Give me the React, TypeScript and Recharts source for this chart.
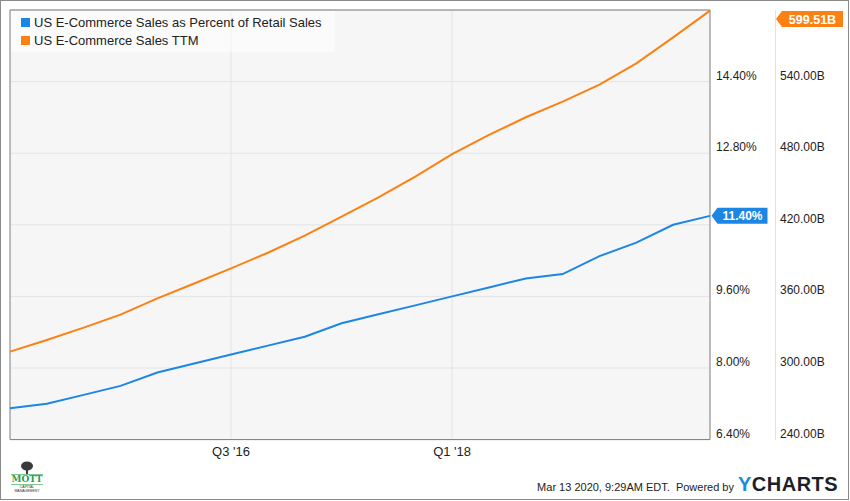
import React from 'react';
import { LineChart, Line, XAxis, YAxis, CartesianGrid, Legend, ReferenceArea } from 'recharts';

const quarters = ["Q1 '15", "Q2 '15", "Q3 '15", "Q4 '15", "Q1 '16", "Q2 '16", "Q3 '16", "Q4 '16", "Q1 '17", "Q2 '17", "Q3 '17", "Q4 '17", "Q1 '18", "Q2 '18", "Q3 '18", "Q4 '18", "Q1 '19", "Q2 '19", "Q3 '19", "Q4 '19"];
const ecomPctOfRetail = [7.1, 7.2, 7.4, 7.6, 7.9, 8.1, 8.3, 8.5, 8.7, 9.0, 9.2, 9.4, 9.6, 9.8, 10.0, 10.1, 10.5, 10.8, 11.2, 11.4];
const ecomSalesTTM = [313.7, 323.5, 333.8, 344.7, 358.3, 370.8, 383.5, 396.6, 410.9, 426.8, 442.9, 460.3, 479.3, 495.3, 510.1, 523.2, 537.4, 555.3, 577.1, 599.51];
const xTicks = [6, 12];
const pctTicks = [6.4, 8.0, 9.6, 11.2, 12.8, 14.4, 16.0];
const usdTicks = [240, 300, 360, 420, 480, 540, 600];
const seriesNames = ['US E-Commerce Sales as Percent of Retail Sales', 'US E-Commerce Sales TTM'];

const BLUE = '#1c86e4';
const ORANGE = '#fc8112';
const FONT = '"Liberation Sans", Arial, sans-serif';

const rows = quarters.map((q, i) => ({ i, q, pct: ecomPctOfRetail[i], usd: ecomSalesTTM[i] }));
const lastIdx = rows.length - 1;

const PctTick = (props: any) => {
  const { x, y, payload } = props;
  if (payload.value === 16 || payload.value === 11.2) return <g />;
  return (
    <text x={x} y={y - 2} fontSize={12} fontFamily={FONT} fill="#222" textAnchor="start">
      {payload.value.toFixed(2) + '%'}
    </text>
  );
};

const UsdTick = (props: any) => {
  const { x, y, payload } = props;
  if (payload.value === 600) return <g />;
  return (
    <text x={x} y={y - 2} fontSize={12} fontFamily={FONT} fill="#222" textAnchor="start">
      {payload.value.toFixed(2) + 'B'}
    </text>
  );
};

const XTick = (props: any) => {
  const { x, y, payload } = props;
  return (
    <text x={x} y={y + 16} fontSize={13} fontFamily={FONT} fill="#222" textAnchor="middle">
      {quarters[payload.value]}
    </text>
  );
};

const badgePath = (tipX: number, cy: number, right: number) =>
  `M${tipX},${cy} L${tipX + 6},${cy - 8} L${right},${cy - 8} L${right},${cy + 8} L${tipX + 6},${cy + 8} Z`;

const BlueBadge = (props: any) => {
  const { cx, cy, index, value } = props;
  if (index !== lastIdx) return <g key={index} />;
  const tip = cx + 1.5;
  const right = tip + 56;
  return (
    <g key={index}>
      <path d={badgePath(tip, cy, right)} fill={BLUE} />
      <text x={(tip + 6 + right) / 2} y={cy + 4.5} fill="#fff" fontSize={12} fontWeight="bold" fontFamily={FONT} textAnchor="middle">
        {Number(value).toFixed(2) + '%'}
      </text>
    </g>
  );
};

const OrangeBadge = (props: any) => {
  const { cx, cy, index, value } = props;
  if (index !== lastIdx) return <g key={index} />;
  const tip = cx + 66;
  const right = tip + 67;
  const y = Math.max(cy, 19);
  return (
    <g key={index}>
      <path d={badgePath(tip, y, right)} fill={ORANGE} />
      <text x={(tip + 6 + right) / 2} y={y + 4.5} fill="#fff" fontSize={12.5} fontWeight="bold" fontFamily={FONT} textAnchor="middle">
        {Number(value).toFixed(2) + 'B'}
      </text>
    </g>
  );
};

const LegendContent = (props: any) => {
  const { payload } = props;
  const items = seriesNames
    .map((n) => (payload || []).find((p: any) => p.value === n))
    .filter(Boolean);
  return (
    <div style={{ background: 'rgba(255,255,255,0.55)', width: 324, height: 41, paddingTop: 2, boxSizing: 'border-box', fontFamily: FONT }}>
      {items.map((p: any) => (
        <div key={p.value} style={{ display: 'flex', alignItems: 'center', height: 18, paddingLeft: 10 }}>
          <span style={{ display: 'inline-block', width: 9, height: 9, background: p.color }} />
          <span style={{ marginLeft: 4, fontSize: 13, color: '#222', whiteSpace: 'nowrap' }}>{p.value}</span>
        </div>
      ))}
    </div>
  );
};

export default function App() {
  return (
    <div style={{ position: 'absolute', left: 0, top: 0, width: 850, height: 501, background: '#fff', fontFamily: FONT }}>
      <div style={{ position: 'absolute', left: 0, top: 0, width: 849, height: 500, border: '1px solid #8a8a8a', boxSizing: 'border-box' }} />
      <div style={{ position: 'absolute', left: 775, top: 10, width: 1, height: 430, background: '#e2e2e2' }} />
      <div style={{ position: 'absolute', left: 0, top: 0 }}>
        <LineChart width={850} height={501} data={rows} margin={{ top: 10, left: 10, right: 0, bottom: 31.4 }}>
          <CartesianGrid yAxisId="pct" stroke="#e4e4e4" fill="#f6f6f6" horizontalValues={pctTicks} verticalValues={xTicks} />
          <XAxis dataKey="i" type="number" domain={[0, 19]} ticks={xTicks} axisLine={false} tickLine={false} tickSize={0} tickMargin={0} height={30} tick={<XTick />} interval={0} />
          <YAxis yAxisId="pct" orientation="right" domain={[6.4, 16]} ticks={pctTicks} width={65} axisLine={false} tickLine={false} tickSize={6} tickMargin={0} tick={<PctTick />} interval={0} allowDataOverflow />
          <YAxis yAxisId="usd" orientation="right" domain={[240, 600]} ticks={usdTicks} width={75} axisLine={false} tickLine={false} tickSize={5} tickMargin={0} tick={<UsdTick />} interval={0} allowDataOverflow={false} />
          <ReferenceArea yAxisId="pct" x1={0} x2={19} y1={6.4} y2={16} fill="none" fillOpacity={0} stroke="#7c7c7c" strokeWidth={1} ifOverflow="visible" />
          <Line yAxisId="pct" dataKey="pct" name={seriesNames[0]} stroke={BLUE} strokeWidth={2} dot={BlueBadge} activeDot={false} isAnimationActive={false} />
          <Line yAxisId="usd" dataKey="usd" name={seriesNames[1]} stroke={ORANGE} strokeWidth={2} dot={OrangeBadge} activeDot={false} isAnimationActive={false} />
          <Legend layout="vertical" align="center" verticalAlign="middle" itemSorter={null as any} wrapperStyle={{ left: 11, top: 11, width: 324, height: 41 }} content={<LegendContent />} />
        </LineChart>
      </div>
      <div style={{ position: 'absolute', left: 11, top: 461, width: 32, height: 34, textAlign: 'center' }}>
        <svg width={32} height={13} style={{ display: 'block' }}>
          <ellipse cx={16} cy={5} rx={6} ry={4.5} fill="#3a3a3a" />
          <rect x={15} y={8} width={2} height={5} fill="#3a3a3a" />
        </svg>
        <div style={{ fontFamily: '"DejaVu Serif", serif', fontWeight: 'bold', fontSize: 9, color: '#2f9e4f', lineHeight: '9px', borderTop: '1px solid #7cc98f', borderBottom: '1px solid #7cc98f' }}>MOTT</div>
        <div style={{ fontSize: 3.5, lineHeight: '4px', color: '#333' }}>CAPITAL<br />MANAGEMENT</div>
      </div>
      <div style={{ position: 'absolute', right: 116, top: 481, fontSize: 11, color: '#222', whiteSpace: 'pre', textAlign: 'right' }}>
        {'Mar 13 2020, 9:29AM EDT.  Powered by'}
      </div>
      <div style={{ position: 'absolute', left: 738, top: 473, fontSize: 20, fontWeight: 'bold', whiteSpace: 'pre', letterSpacing: 0.5, color: '#1b1f2a' }}>
        <span style={{ color: '#1a8be3' }}>Y</span>CHARTS
      </div>
    </div>
  );
}
